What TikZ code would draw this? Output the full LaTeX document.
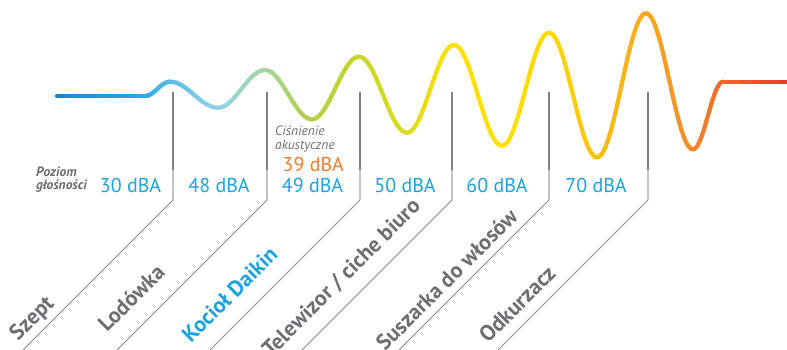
\documentclass[tikz,border=0pt]{standalone}
\usepackage{fontspec}
\setmainfont{PT Sans}
\usetikzlibrary{calc}
\definecolor{txtgray}{HTML}{6D6E71}
\definecolor{dbablue}{HTML}{1BA3DF}
\definecolor{dbaorange}{HTML}{F07C2C}
\definecolor{tickdark}{HTML}{808285}
\definecolor{ticklight}{HTML}{C4C4C4}
\definecolor{diaggray}{HTML}{8C8C8C}
\definecolor{wA}{HTML}{1E86CC}
\definecolor{wB}{HTML}{2AA9E4}
\definecolor{wC}{HTML}{58BCE6}
\definecolor{wD}{HTML}{93D3EA}
\definecolor{wE}{HTML}{A5D6A0}
\definecolor{wF}{HTML}{B4D046}
\definecolor{wG}{HTML}{C8D62A}
\definecolor{wH}{HTML}{DCDB1E}
\definecolor{wI}{HTML}{FFE000}
\definecolor{wJ}{HTML}{FFE100}
\definecolor{wK}{HTML}{FFD800}
\definecolor{wL}{HTML}{FDC010}
\definecolor{wM}{HTML}{F8AA1E}
\definecolor{wN}{HTML}{F18A2A}
\definecolor{wO}{HTML}{EE6A2C}
\definecolor{wP}{HTML}{EC3A2A}
\begin{document}
\begin{tikzpicture}[x=1pt,y=-1pt,
  wave/.style={line width=4.2pt,line cap=round},
  tickup/.style={draw=tickdark,line width=1.4pt},
  ticklow/.style={draw=ticklight,line width=1.4pt},
  diag/.style={draw=diaggray,line width=0.8pt},
  dba/.style={text=dbablue,font=\fontsize{20}{22}\selectfont,anchor=base,inner sep=0pt},
  small/.style={text=txtgray,anchor=base west,inner sep=0pt},
  lbl/.style={text=txtgray,font=\fontsize{22}{24}\selectfont\bfseries,anchor=base west,rotate=45,inner sep=0pt}]
\useasboundingbox (0,0) rectangle (787,349);
\clip (0,0) rectangle (787,349);
% wave
\def\N{24}
\foreach \xa/\ya/\ca/\xb/\yb/\cb in {
  57/96/wA/145/96/wB,
  145/96/wB/170/81.7/wC,
  170/81.7/wC/218/107.7/wD,
  218/107.7/wD/265/70/wE,
  265/70/wE/312/119.3/wF,
  312/119.3/wF/359/56.7/wG,
  359/56.7/wG/407/132.7/wH,
  407/132.7/wH/454/45/wI,
  454/45/wI/502/145.7/wJ,
  502/145.7/wJ/549/32.7/wK,
  549/32.7/wK/597/157.3/wL,
  597/157.3/wL/646/13.3/wM,
  646/13.3/wM/693/149.3/wN,
  693/149.3/wN/723/81.7/wO,
  723/81.7/wO/790/81.7/wP}{
  \foreach \j in {1,...,\N}{
    \pgfmathsetmacro\xA{\xa+(\xb-\xa)*(\j-1)/\N}
    \pgfmathsetmacro\yA{\ya+(\yb-\ya)*(1-cos(180*(\j-1)/\N))/2}
    \pgfmathsetmacro\xB{\xa+(\xb-\xa)*\j/\N}
    \pgfmathsetmacro\yB{\ya+(\yb-\ya)*(1-cos(180*\j/\N))/2}
    \pgfmathtruncatemacro\p{100*(\j-0.5)/\N}
    \draw[wave,color=\cb!\p!\ca] (\xA,\yA) -- (\xB,\yB);
  }
}
% ticks
\foreach \i/\cx in {1/173,2/267,3/360,4/452,5/549,6/648}{
  \coordinate (t\i) at (\cx,92);
  \coordinate (m\i) at (\cx,170);
  \coordinate (c\i) at (\cx,200);
  \coordinate (e\i) at (\cx-170,370);
  \draw[tickup] (t\i) -- (m\i);
  \draw[ticklow] (m\i) -- (c\i);
  \draw[diag] (c\i) -- (e\i);
}
% values
\node[dba] (v1) at (130.5,192) {30 dBA};
\node[dba] (v2) at (219,192) {48 dBA};
\node[dba] (v3) at (312.5,192) {49 dBA};
\node[dba] (v4) at (405,192) {50 dBA};
\node[dba] (v5) at (497,192) {60 dBA};
\node[dba] (v6) at (596,192) {70 dBA};
\node[dba,text=dbaorange] (v39) at (313.3,171) {39 dBA};
\node[small,font=\fontsize{13.5}{15}\selectfont\itshape] (cis) at (275,135) {Ciśnienie};
\node[small,font=\fontsize{13.5}{15}\selectfont\itshape] (aku) at (275,149.5) {akustyczne};
\node[small,font=\fontsize{13.5}{15}\selectfont\bfseries\itshape] (poz) at (36,176) {Poziom};
\node[small,font=\fontsize{13.5}{15}\selectfont\bfseries\itshape] (glo) at (36,189) {głośności};
% rotated labels
\node[lbl] (l1) at (18,342) {Szept};
\node[lbl] (l2) at (107,333) {Lodówka};
\node[lbl,text=dbablue] (l3) at (191,344) {Kocioł Daikin};
\node[lbl] (l4) at (271,358) {Telewizor / ciche biuro};
\node[lbl] (l5) at (385,352) {Suszarka do włosów};
\node[lbl] (l6) at (488,344) {Odkurzacz};
\end{tikzpicture}
\end{document}
